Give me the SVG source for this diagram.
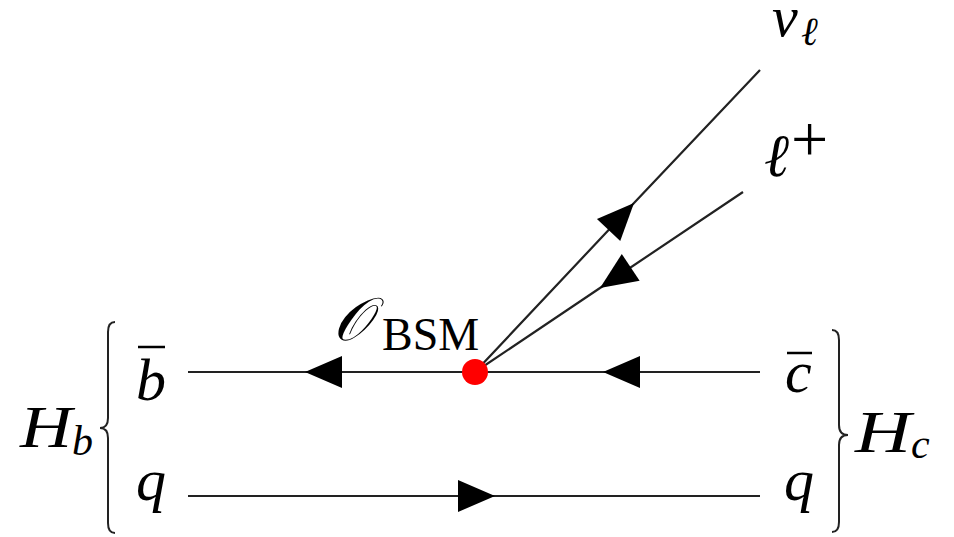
<svg xmlns="http://www.w3.org/2000/svg" width="954" height="537" viewBox="0 0 954 537">
<style>
.ln{stroke:#222;stroke-width:2.2;fill:none}
.br{stroke:#222;stroke-width:2;fill:none}
.m{font-family:"Liberation Serif","DejaVu Serif",serif;font-style:italic;fill:#000}
.r{font-family:"Liberation Serif","DejaVu Serif",serif;fill:#000}
.bar{stroke:#000;stroke-width:2.5}
</style>
<defs>
<marker id="arr" markerUnits="userSpaceOnUse" markerWidth="40" markerHeight="34" viewBox="0 -17 38 34" refX="37" refY="0" orient="auto">
<path d="M0,-16 L37,0 L0,16 z" fill="#000"/>
</marker>
</defs>
<rect width="954" height="537" fill="#fff"/>
<g id="connectors">
<path class="ln" d="M475,372 L305,372 L188,372" marker-mid="url(#arr)"/>
<path class="ln" d="M760,372 L603,372 L475,372" marker-mid="url(#arr)"/>
<path class="ln" d="M188,496 L495,496 L760,496" marker-mid="url(#arr)"/>
<path class="ln" d="M475,372 L634,203 L760,70" marker-mid="url(#arr)"/>
<path class="ln" d="M743,192 L600,288 L475,372" marker-mid="url(#arr)"/>
</g>
<g id="vertex">
<circle cx="475" cy="372" r="13" fill="#f00"/>
<text class="m" x="333" y="340" font-size="60">𝒪</text>
<text class="r" x="382" y="350" font-size="46">BSM</text>
</g>
<g id="nu">
<text class="m" x="772" y="36" font-size="58">ν</text>
<text class="m" x="801" y="45" font-size="40">ℓ</text>
</g>
<g id="lepton">
<text class="m" x="764" y="176" font-size="60">ℓ</text>
<text class="r" x="791" y="161" font-size="66">+</text>
</g>
<g id="bbar">
<text class="m" x="136" y="400" font-size="60">b</text>
<line class="bar" x1="138" y1="347" x2="165" y2="347"/>
</g>
<g id="q-left">
<text class="m" x="136" y="500" font-size="60">q</text>
</g>
<g id="cbar">
<text class="m" x="785" y="392" font-size="60">c</text>
<line class="bar" x1="787" y1="353" x2="812" y2="353"/>
</g>
<g id="q-right">
<text class="m" x="784" y="500" font-size="60">q</text>
</g>
<g id="Hb">
<text class="m" x="20" y="447" font-size="60" textLength="52" lengthAdjust="spacingAndGlyphs">H</text>
<text class="m" x="72" y="455" font-size="42">b</text>
<path class="br" d="M115,322 Q108,322 108,332 L108,418 Q108,428 100,428 Q108,428 108,438 L108,523 Q108,533 115,533"/>
</g>
<g id="Hc">
<text class="m" x="855" y="452" font-size="60" textLength="56" lengthAdjust="spacingAndGlyphs">H</text>
<text class="m" x="911" y="458" font-size="42">c</text>
<path class="br" d="M832,330 Q839,330 839,340 L839,425 Q839,435 848,435 Q839,435 839,445 L839,522 Q839,532 832,532"/>
</g>
</svg>
